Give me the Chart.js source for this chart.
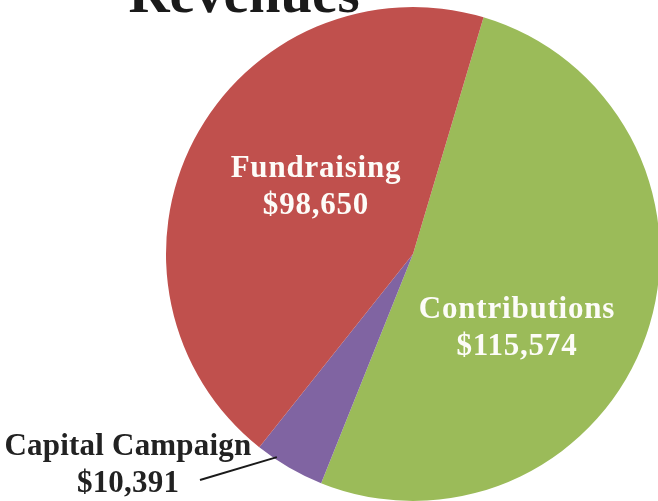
<!DOCTYPE html>
<html>
<head>
<meta charset="utf-8">
<script src="https://cdn.jsdelivr.net/npm/chart.js@4"></script>
<style>
    html, body { margin: 0; padding: 0; overflow: hidden; background: #fff; }
    #wrap { position: absolute; left: 0; top: 0; width: 700px; height: 510px; }
</style>
</head>
<body>
<div id="wrap"><canvas id="chartRevenues"></canvas></div>
<script>
const categories = ['Contributions', 'Capital Campaign', 'Fundraising'];
const amounts = [115574, 10391, 98650];
const amountLabels = ['$115,574', '$10,391', '$98,650'];
const sliceColors = ['#9bbb59', '#8064a2', '#c0504d'];

const serif = '"Liberation Serif", "DejaVu Serif", serif';

// where each slice's text sits (centre x, first baseline)
const labelSpots = [[517, 318], [128, 455], [316, 177]];

const labelPlugin = {
    id: 'pieLabels',
    afterDatasetsDraw(chart) {
        const ctx = chart.ctx;
        const arcs = chart.getDatasetMeta(0).data;
        ctx.save();
        ctx.textAlign = 'center';
        ctx.textBaseline = 'alphabetic';

        // title, mostly cut off by the top edge
        ctx.fillStyle = '#1a1a1a';
        ctx.font = 'bold 57px ' + serif;
        ctx.fillText('Revenues', 244, 12);

        ctx.font = 'bold 31px ' + serif;
        arcs.forEach(function (arc, i) {
            const [x, y] = labelSpots[i];
            if (i === 1) {
                // outside label, leader line to the slice's rim
                const a = arc.startAngle + (arc.endAngle - arc.startAngle) * 0.72;
                const r = arc.outerRadius * 0.99;
                ctx.strokeStyle = '#1a1a1a';
                ctx.lineWidth = 2;
                ctx.beginPath();
                ctx.moveTo(arc.x + Math.cos(a) * r, arc.y + Math.sin(a) * r);
                ctx.lineTo(200, 480);
                ctx.stroke();
                ctx.fillStyle = '#222';
                ctx.letterSpacing = '0.2px';
            } else {
                ctx.fillStyle = '#fdfcf8';
                ctx.letterSpacing = '0.8px';
            }
            ctx.fillText(categories[i], x, y);
            ctx.fillText(amountLabels[i], x, y + 37);
        });
        ctx.restore();
    },
};

new Chart(document.getElementById('chartRevenues'), {
    type: 'pie',
    data: {
        labels: categories,
        datasets: [{
            data: amounts,
            backgroundColor: sliceColors,
            borderWidth: 0,
            hoverOffset: 0,
        }],
    },
    options: {
        responsive: true,
        maintainAspectRatio: false,
        animation: false,
        rotation: 16.6,
        layout: {
            padding: { left: 166, right: 40, top: 7, bottom: 9 },
        },
        plugins: {
            legend: { display: false },
            tooltip: { enabled: false },
        },
    },
    plugins: [labelPlugin],
});
</script>
</body>
</html>
